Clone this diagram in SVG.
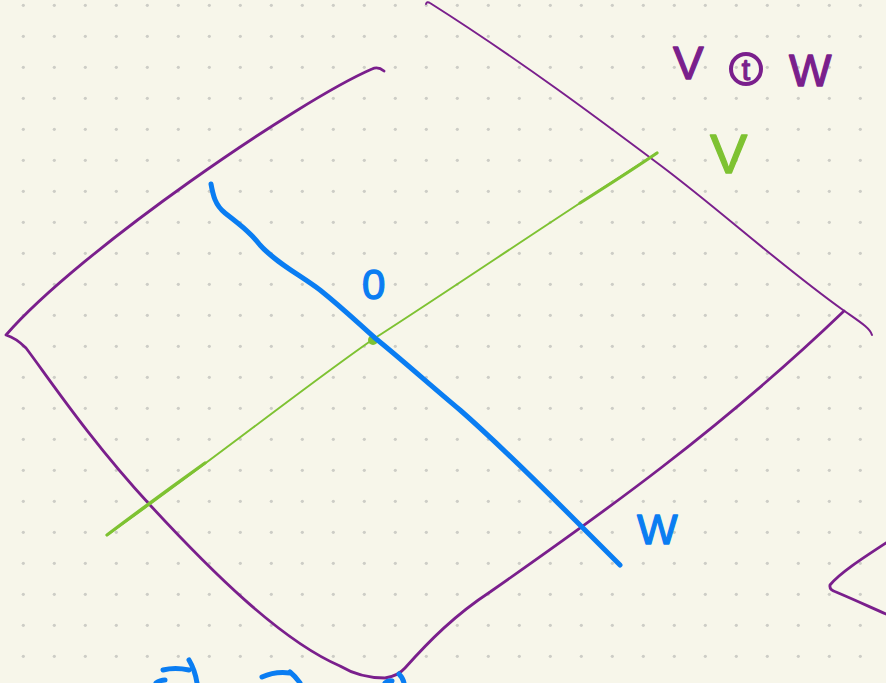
<svg xmlns="http://www.w3.org/2000/svg" width="886" height="683" viewBox="0 0 886 683">
<style>
.p{fill:none;stroke:#7a1f8c;stroke-linecap:round;stroke-linejoin:round}
.g{fill:none;stroke:#7ec232;stroke-linecap:round}
.b{fill:none;stroke:#0a7df2;stroke-linecap:round;stroke-linejoin:round}
.t{font-family:"Liberation Sans","DejaVu Sans",sans-serif;stroke-width:1.3;stroke-linejoin:round}
</style>
<defs>
<pattern id="dots" width="31" height="31" patternUnits="userSpaceOnUse">
<circle cx="23.3" cy="5.3" r="1.6" fill="#cdcdc6"/>
</pattern>
</defs>
<rect width="886" height="683" fill="#f7f6ea"/>
<rect width="886" height="683" fill="url(#dots)"/>
<g id="connectors">
<path class="p" stroke-width="2.8" d="M384,71 Q378,66 372,69 C300,100 80,250 6,335 Q16,338 26,348 C50,380 90,440 150,505 C210,570 280,640 340,666 Q360,678 385,678 Q398,676 405,668 C430,640 455,615 490,592 C600,515 720,430 844,311"/>
<path class="p" stroke-width="2" d="M426,4 Q427,1 430,3 C520,60 600,120 660,165 C720,210 780,265 843,310 C860,322 870,328 872,335"/>
<path class="p" stroke-width="2.8" d="M886,543 C860,560 840,573 830,585 Q829,590 836,592 C855,600 870,607 886,614"/>
<path class="g" stroke-width="2" d="M107,535 C200,470 300,390 372,340 C450,290 560,215 657,153"/>
<path class="g" stroke-width="3.2" d="M107,535 C140,510 170,488 205,463 M580,203 C610,184 635,168 657,153"/>
<circle cx="373" cy="340" r="5" fill="#7ec232"/>
<path class="b" stroke-width="5" d="M211,184 C213,195 215,205 225,213 C240,225 250,232 260,245 C275,262 300,275 320,290 C345,310 360,325 375,338 C400,358 430,385 460,410 C500,445 540,485 575,520 C595,540 610,555 620,565"/>
<path class="b" stroke-width="5" d="M163,670 Q175,667 189,670 M189,660 Q195,670 197,683 M156,683 Q160,680 165,680 M262,677 Q275,671 290,673 M290,672 Q296,677 300,683 M385,683 Q388,680 392,681 M399,674 Q403,678 404,683"/>
</g>
<g id="label-vw" fill="#7a1f8c" stroke="#7a1f8c">
<text class="t" x="673" y="79" font-size="46">V</text>
<circle cx="746" cy="69" r="15" fill="none" stroke-width="4"/>
<text class="t" x="746" y="80" font-size="30" stroke-width="1.5" text-anchor="middle">t</text>
<text class="t" x="789" y="86" font-size="45">W</text>
</g>
<g id="label-v" fill="#7ec232" stroke="#7ec232">
<text class="t" x="710" y="173" font-size="56">V</text>
</g>
<g id="label-0" fill="#0a7df2" stroke="#0a7df2">
<text class="t" x="362" y="299" font-size="42">0</text>
</g>
<g id="label-w" fill="#0a7df2" stroke="#0a7df2">
<text class="t" x="637" y="544" font-size="43">W</text>
</g>
</svg>
